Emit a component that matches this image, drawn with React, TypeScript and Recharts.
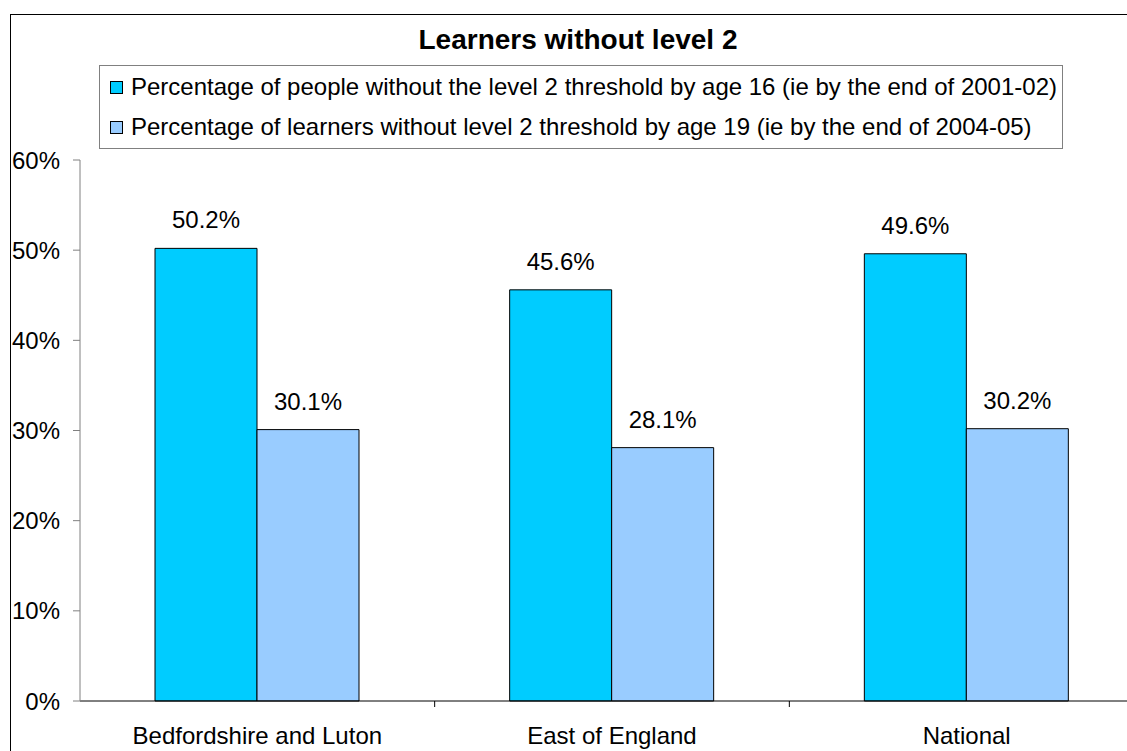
import React from 'react';
import { BarChart, Bar, XAxis, YAxis, Legend, LabelList } from 'recharts';

const categories = ['Bedfordshire and Luton', 'East of England', 'National'];
const age16Values = [50.2, 45.6, 49.6];
const age19Values = [30.1, 28.1, 30.2];
const yTicks = [0, 10, 20, 30, 40, 50, 60];
const seriesNames = [
  'Percentage of people without the level 2 threshold by age 16 (ie by the end of 2001-02)',
  'Percentage of learners without level 2 threshold by age 19 (ie by the end of 2004-05)',
];
const title = 'Learners without level 2';

const data = categories.map((c, i) => ({ name: c, a: age16Values[i], b: age19Values[i] }));

const FONT = '"Liberation Sans", Arial, sans-serif';
const FS = 24;
const CHART_W = 1144;
const CHART_H = 751;
const Y_W = 80;
const BAND = (CHART_W - Y_W) / categories.length;

const XTick = (props: any) => {
  const { x, y, payload, index } = props;
  const bx = x - BAND / 2;
  return (
    <g>
      {index > 0 && <line x1={bx} y1={y} x2={bx} y2={y + 6} stroke="#000" strokeWidth={1} />}
      <text x={x} y={y + 43} textAnchor="middle" fontSize={FS} fontFamily={FONT} fill="#000">
        {payload.value}
      </text>
    </g>
  );
};

const LegendContent = (props: any) => {
  const payload = [...(props.payload || [])].sort(
    (p: any, q: any) => seriesNames.indexOf(p.value) - seriesNames.indexOf(q.value)
  );
  return (
    <div
      style={{
        border: '1px solid #808080',
        boxSizing: 'border-box',
        width: 964,
        height: 84,
        paddingTop: 1,
        background: '#fff',
      }}
    >
      {payload.map((p: any, i: number) => (
        <div key={i} style={{ display: 'flex', alignItems: 'center', height: 40, paddingLeft: 10 }}>
          <span
            style={{
              display: 'inline-block',
              width: 13,
              height: 13,
              boxSizing: 'border-box',
              border: '1px solid #000',
              background: p.color,
              marginRight: 8,
            }}
          />
          <span style={{ fontSize: FS, fontFamily: FONT, color: '#000', whiteSpace: 'nowrap' }}>{p.value}</span>
        </div>
      ))}
    </div>
  );
};

export default function App() {
  return (
    <div
      style={{
        position: 'fixed',
        left: 0,
        top: 0,
        width: 1127,
        height: 751,
        overflow: 'hidden',
        background: '#fff',
        fontFamily: FONT,
      }}
    >
      <div
        style={{
          position: 'absolute',
          left: 10,
          top: 14,
          width: 1300,
          height: 900,
          border: '1px solid #000',
          boxSizing: 'border-box',
        }}
      />
      <div
        style={{
          position: 'absolute',
          left: 0,
          top: 24,
          width: 1156,
          textAlign: 'center',
          fontSize: 28,
          fontWeight: 'bold',
          fontFamily: FONT,
          color: '#000',
          lineHeight: '32px',
          whiteSpace: 'nowrap',
        }}
      >
        {title}
      </div>
      <div style={{ position: 'absolute', left: 0, top: 0 }}>
        <BarChart
          width={CHART_W}
          height={CHART_H}
          data={data}
          margin={{ top: 160, right: 0, bottom: 0, left: 0 }}
          barCategoryGap={75}
          barGap={0}
        >
          <XAxis
            dataKey="name"
            height={50}
            axisLine={{ stroke: '#000', strokeWidth: 1 }}
            tickLine={false}
            tickSize={0}
            tickMargin={0}
            tick={<XTick />}
            interval={0}
          />
          <YAxis
            width={Y_W}
            domain={[0, 60]}
            ticks={yTicks}
            tickFormatter={(v: number) => `${v}%`}
            axisLine={{ stroke: '#808080', strokeWidth: 1 }}
            tickLine={{ stroke: '#808080', strokeWidth: 1 }}
            tickSize={7}
            tickMargin={13}
            tick={{ fontSize: FS, fontFamily: FONT, fill: '#000' }}
            interval={0}
          />
          <Legend
            layout="horizontal"
            verticalAlign="middle"
            align="center"
            wrapperStyle={{ left: 99, top: 65, width: 964 }}
            content={<LegendContent />}
          />
          <Bar dataKey="a" name={seriesNames[0]} fill="#00CCFF" stroke="#000" strokeWidth={1} isAnimationActive={false}>
            <LabelList
              dataKey="a"
              position="top"
              offset={20}
              formatter={(v: any) => `${Number(v).toFixed(1)}%`}
              style={{ fontSize: FS, fontFamily: FONT, fill: '#000' }}
            />
          </Bar>
          <Bar dataKey="b" name={seriesNames[1]} fill="#99CCFF" stroke="#000" strokeWidth={1} isAnimationActive={false}>
            <LabelList
              dataKey="b"
              position="top"
              offset={20}
              formatter={(v: any) => `${Number(v).toFixed(1)}%`}
              style={{ fontSize: FS, fontFamily: FONT, fill: '#000' }}
            />
          </Bar>
        </BarChart>
      </div>
    </div>
  );
}
